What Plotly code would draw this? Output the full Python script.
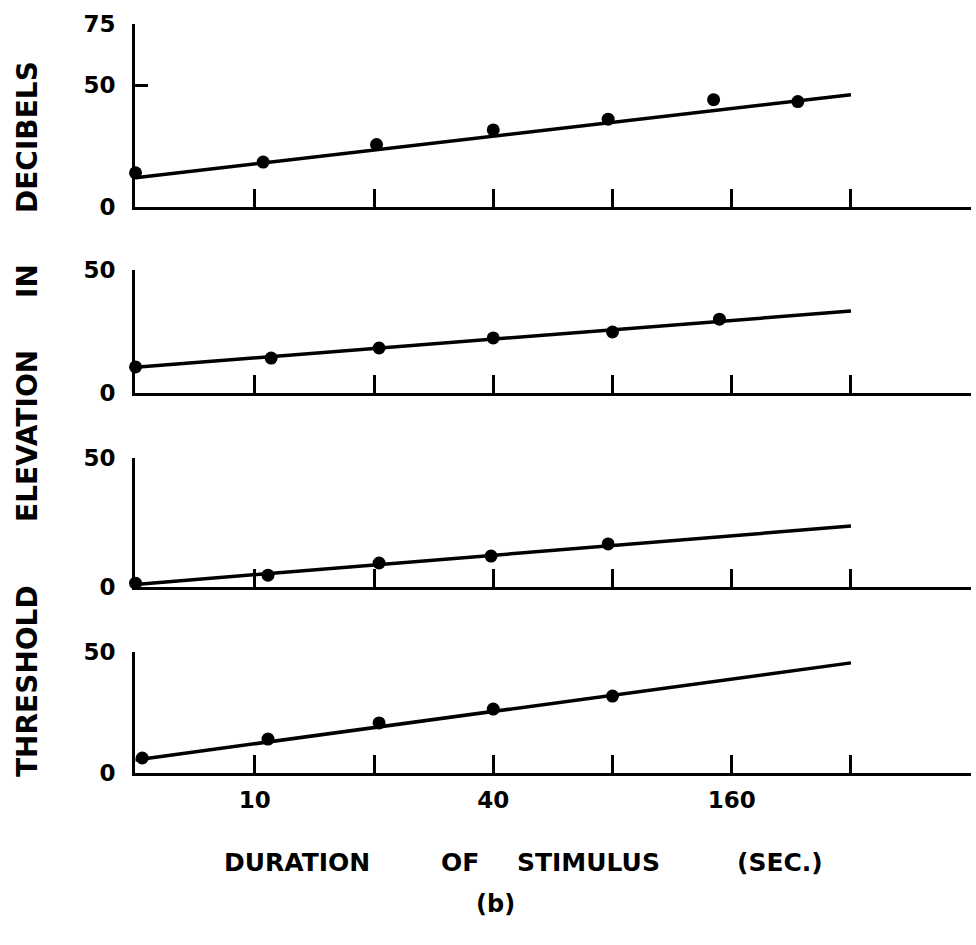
import math
import plotly.graph_objects as go

# ---- data ----
tick_vals = [10, 20, 40, 80, 160, 320, 640]
tick_text = ["10", "", "40", "", "160", "", ""]

fit_x = [5, 320]

a_x = [5, 10.5, 20.3, 40, 78, 144, 235]
a_y = [14, 18.4, 25.6, 31.6, 36, 44, 43.2]
a_fit = [12, 46]

b_x = [5, 11, 20.6, 40, 80, 149]
b_y = [10.6, 14.2, 18.3, 22.4, 24.8, 30]
b_fit = [10.5, 33.3]

c_x = [5, 10.8, 20.6, 39.5, 78]
c_y = [1.5, 4.6, 9.3, 12, 16.7]
c_fit = [1, 23.6]

d_x = [5.2, 10.8, 20.6, 40, 80]
d_y = [6.2, 14, 20.7, 26.4, 31.8]
d_fit = [5.4, 45.5]

y_ranges = [[0, 75], [0, 50], [0, 50], [0, 50]]
y_ticks = [[0, 50, 75], [0, 50], [0, 50], [0, 50]]

title_words = ["THRESHOLD", "ELEVATION", "IN", "DECIBELS"]
x_title_words = ["DURATION", "OF", "STIMULUS", "(SEC.)"]
panel_label = "(b)"

# ---- layout geometry (pixels) ----
W, H = 976, 945
x_px = (135, 971)
panel_px = [(24, 207), (270, 393), (458, 587), (652, 773)]  # (top, bottom)

FONT = "DejaVu Sans"
BLACK = "black"

fig = go.Figure()
panels = [(a_x, a_y, a_fit), (b_x, b_y, b_fit), (c_x, c_y, c_fit), (d_x, d_y, d_fit)]
for i, (px, py, pf) in enumerate(panels):
    k = "" if i == 0 else str(i + 1)
    fig.add_trace(go.Scatter(x=fit_x, y=pf, mode="lines",
                             line=dict(color=BLACK, width=3.5),
                             xaxis="x" + k, yaxis="y" + k, cliponaxis=False,
                             showlegend=False, hoverinfo="skip"))
    fig.add_trace(go.Scatter(x=px, y=py, mode="markers",
                             marker=dict(color=BLACK, size=13),
                             xaxis="x" + k, yaxis="y" + k, cliponaxis=False,
                             showlegend=False))

layout = dict(
    width=W, height=H,
    margin=dict(l=0, r=0, t=0, b=0, autoexpand=False),
    paper_bgcolor="white", plot_bgcolor="white",
    showlegend=False,
)

tickfont = dict(family=FONT, size=23, color=BLACK, weight="bold")
for i, (top, bot) in enumerate(panel_px):
    k = "" if i == 0 else str(i + 1)
    last = i == len(panel_px) - 1
    layout["xaxis" + k] = dict(
        type="log",
        domain=[x_px[0] / W, x_px[1] / W],
        range=[math.log10(4.985), math.log10(643)],
        anchor="y" + k, automargin=False,
        showline=True, linecolor=BLACK, linewidth=3,
        ticks="inside", ticklen=18, tickwidth=3, tickcolor=BLACK,
        tickvals=tick_vals, ticktext=tick_text,
        showticklabels=last, tickfont=tickfont, ticklabelstandoff=4,
        showgrid=False, zeroline=False, fixedrange=True,
    )
    layout["yaxis" + k] = dict(
        domain=[1 - bot / H, 1 - top / H],
        range=y_ranges[i],
        anchor="x" + k, automargin=False,
        showline=True, linecolor=BLACK, linewidth=3,
        ticks="inside", ticklen=13, tickwidth=3, tickcolor=BLACK,
        tickvals=y_ticks[i],
        tickfont=tickfont, ticklabelstandoff=12,
        showgrid=False, zeroline=False, fixedrange=True,
    )

annotations = []
title_font = dict(family=FONT, size=28, color=BLACK, weight="bold")
for word, cy in zip(title_words, [681, 436, 281, 137]):
    annotations.append(dict(text=word, x=27 / W, y=1 - cy / H, xref="paper", yref="paper",
                            textangle=-90, showarrow=False, font=title_font,
                            xanchor="center", yanchor="middle"))
xt_font = dict(family=FONT, size=25, color=BLACK, weight="bold")
for word, cx in zip(x_title_words, [297, 460, 588, 780]):
    annotations.append(dict(text=word, x=cx / W, y=1 - 862 / H, xref="paper", yref="paper",
                            showarrow=False, font=xt_font, xanchor="center", yanchor="middle"))
annotations.append(dict(text=panel_label, x=495 / W, y=1 - 904 / H, xref="paper", yref="paper",
                        showarrow=False, font=dict(family=FONT, size=24, color=BLACK, weight="bold"),
                        xanchor="center", yanchor="middle"))
layout["annotations"] = annotations

fig.update_layout(**layout)
fig.write_html("out.html")
